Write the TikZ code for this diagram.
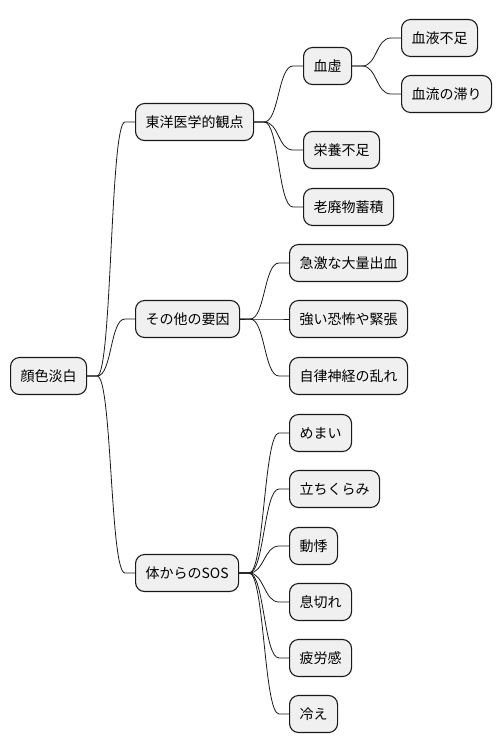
\documentclass[tikz,border=0pt]{standalone}
\usepackage{fontspec}
\setmainfont{Noto Sans CJK JP}
\begin{document}
\begin{tikzpicture}[x=1pt,y=-1pt,
  mmbox/.style={draw=black!90,line width=1.1pt,fill=black!6,rounded corners=9pt,
    minimum height=37pt,inner xsep=10pt,anchor=west,font=\fontsize{14}{16}\selectfont},
  conn/.style={line width=0.8pt,draw=black!90}]
\useasboundingbox (0,0) rectangle (502,752);
\node[mmbox] (root) at (10,376) {顔色淡白};
\node[mmbox] (east) at (135,122) {東洋医学的観点};
\node[mmbox] (kekkyo) at (303,66) {血虚};
\node[mmbox] (ketsueki) at (401,38) {血液不足};
\node[mmbox] (keturyu) at (401,94) {血流の滞り};
\node[mmbox] (eiyou) at (303,150) {栄養不足};
\node[mmbox] (rouhai) at (303,207) {老廃物蓄積};
\node[mmbox] (other) at (135,319) {その他の要因};
\node[mmbox] (kyuugeki) at (289,263) {急激な大量出血};
\node[mmbox] (tsuyoi) at (289,319) {強い恐怖や緊張};
\node[mmbox] (jiritsu) at (289,376) {自律神経の乱れ};
\node[mmbox] (sos) at (135,573) {体からのSOS};
\node[mmbox] (memai) at (289,433) {めまい};
\node[mmbox] (tachi) at (289,489) {立ちくらみ};
\node[mmbox] (douki) at (289,546) {動悸};
\node[mmbox] (iki) at (289,602) {息切れ};
\node[mmbox] (hirou) at (289,658) {疲労感};
\node[mmbox] (hie) at (289,714) {冷え};
\newcommand{\mmconn}[2]{\draw[conn] (#1.east) -- ([xshift=10pt]#1.east)
  .. controls ([xshift=25pt]#1.east) and ([xshift=-25pt]#2.west) .. ([xshift=-10pt]#2.west) -- (#2.west);}
\mmconn{root}{east}
\mmconn{root}{other}
\mmconn{root}{sos}
\mmconn{east}{kekkyo}
\mmconn{east}{eiyou}
\mmconn{east}{rouhai}
\mmconn{kekkyo}{ketsueki}
\mmconn{kekkyo}{keturyu}
\mmconn{other}{kyuugeki}
\mmconn{other}{tsuyoi}
\mmconn{other}{jiritsu}
\mmconn{sos}{memai}
\mmconn{sos}{tachi}
\mmconn{sos}{douki}
\mmconn{sos}{iki}
\mmconn{sos}{hirou}
\mmconn{sos}{hie}
\end{tikzpicture}
\end{document}
